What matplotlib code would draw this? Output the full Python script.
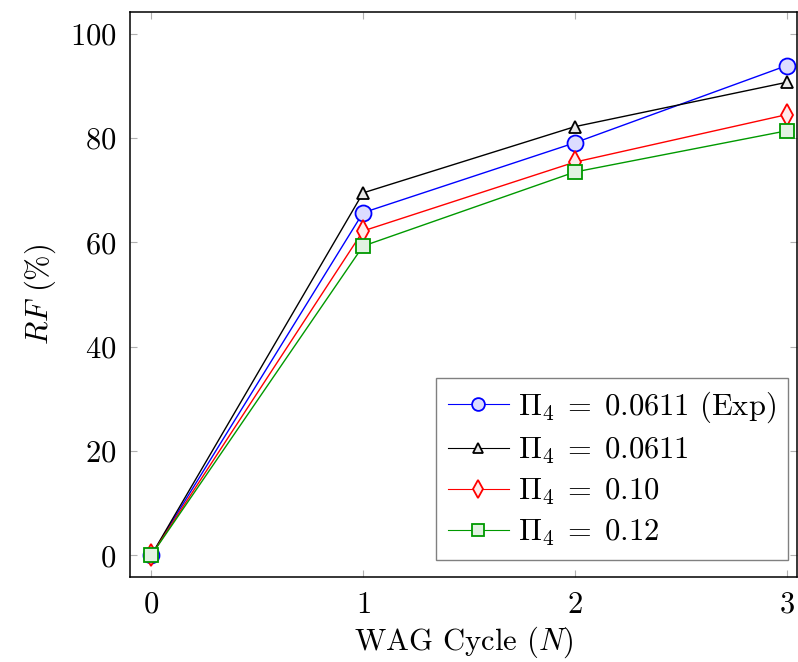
import numpy as np
import matplotlib
matplotlib.use("Agg")
import matplotlib.pyplot as plt

plt.rcParams["font.family"] = "serif"
plt.rcParams["font.serif"] = ["cmr10", "DejaVu Serif"]
plt.rcParams["mathtext.fontset"] = "cm"
plt.rcParams["axes.formatter.use_mathtext"] = True

# recovery factor per WAG cycle
cycles = [0, 1, 2, 3]
rf_exp = [0.0, 65.7, 79.1, 93.9]
rf_0611 = [0.0, 69.5, 82.2, 90.7]
rf_010 = [0.0, 62.2, 75.4, 84.5]
rf_012 = [0.0, 59.3, 73.5, 81.4]

labels = [r"$\Pi_4\;=\;0.0611$ (Exp)", r"$\Pi_4\;=\;0.0611$",
          r"$\Pi_4\;=\;0.10$", r"$\Pi_4\;=\;0.12$"]

fig = plt.figure(figsize=(7.98, 6.62), dpi=100)
ax = fig.add_axes([0.163, 0.128, 0.836, 0.854])

ax.plot(cycles, rf_exp, color="blue", lw=1.0, marker="o", ms=11.5,
        mfc="#dcdcff", mec="blue", mew=1.3, label=labels[0])
ax.plot(cycles, rf_0611, color="black", lw=1.0, marker="^", ms=9,
        mfc="#e8e8e8", mec="black", mew=1.3, label=labels[1])
ax.plot(cycles, rf_010, color="red", lw=1.0, marker="d", ms=11,
        mfc="#ffecec", mec="red", mew=1.3, label=labels[2])
ax.plot(cycles, rf_012, color="#009900", lw=1.0, marker="s", ms=10,
        mfc="#e2f2e2", mec="#009900", mew=1.3, label=labels[3])

ax.set_xlim(-0.1, 3.05)
ax.set_ylim(-4.2, 104.2)
ax.set_xticks(cycles)
ax.set_yticks([0, 20, 40, 60, 80, 100])
ax.tick_params(direction="in", length=5, width=0.8, color="#b0b0b0",
               top=True, right=True, labelsize=22, pad=10)
for s in ax.spines.values():
    s.set_linewidth(1.1)

ax.set_xlabel(r"WAG Cycle ($N$)", fontsize=22, labelpad=4)
ax.set_ylabel(r"$RF$ (%)", fontsize=22, labelpad=8)

leg = ax.legend(loc="lower right", bbox_to_anchor=(0.9865, 0.03),
                borderaxespad=0, fontsize=22, fancybox=False,
                edgecolor="#808080", framealpha=1, markerscale=0.8,
                handlelength=2.0, handletextpad=0.3, labelspacing=0.35,
                borderpad=0.4)
leg.get_frame().set_linewidth(1.0)
for line in leg.get_lines():
    line.set_linewidth(0.8)

fig.savefig("out.png", dpi=100)
